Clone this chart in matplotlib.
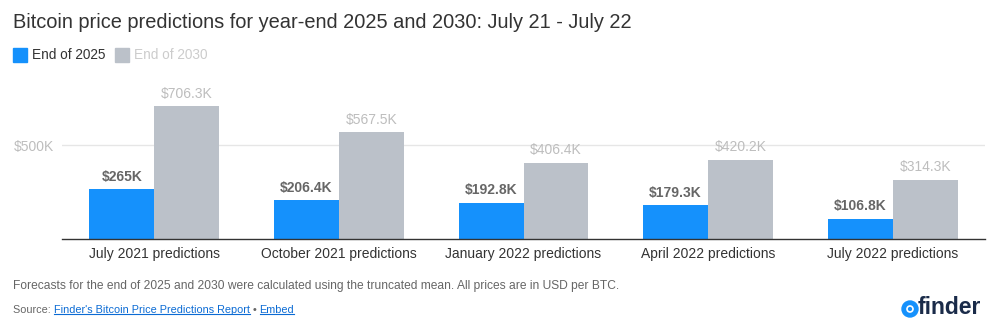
import numpy as np
import matplotlib
matplotlib.use("Agg")
from matplotlib import pyplot as plt
from matplotlib.patches import Circle, Rectangle
from matplotlib.transforms import IdentityTransform

plt.rcParams['font.family'] = ['Liberation Sans', 'DejaVu Sans']

categories = ["July 2021 predictions", "October 2021 predictions", "January 2022 predictions",
              "April 2022 predictions", "July 2022 predictions"]
end_2025 = [265.0, 206.4, 192.8, 179.3, 106.8]
end_2030 = [706.3, 567.5, 406.4, 420.2, 314.3]
series_names = ["End of 2025", "End of 2030"]

BLUE = "#1591FC"
GREY = "#BBC1C9"

fig = plt.figure(figsize=(10.05, 3.3), dpi=100)
ax = fig.add_axes([62/1005, 91/330, 923/1005, 159/330])

x = np.arange(len(categories))
w = 0.352
b1 = ax.bar(x - w/2, end_2025, w, color=BLUE, zorder=2)
b2 = ax.bar(x + w/2, end_2030, w, color=GREY, zorder=2)

for r, v in zip(b1, end_2025):
    ax.text(r.get_x() + r.get_width()/2, v + 30, "$%gK" % v, ha="center", va="bottom",
            fontsize=10, fontweight="bold", color="#666666")
for r, v in zip(b2, end_2030):
    ax.text(r.get_x() + r.get_width()/2, v + 30, "$%gK" % v, ha="center", va="bottom",
            fontsize=10, color="#BDBDBD")

ax.set_xlim(-0.5, len(categories) - 0.5)
ax.set_ylim(0, 846)
ax.set_yticks([500])
ax.set_yticklabels(["$500K"], color="#BDBDBD", fontsize=10)
ax.grid(axis="y", color="#E6E6E6", linewidth=1, zorder=0)
ax.set_xticks(x)
ax.set_xticklabels(categories, fontsize=10, color="#333333")
ax.tick_params(axis="x", length=0, pad=6)
ax.tick_params(axis="y", length=0, pad=6)
for s in ["top", "right", "left"]:
    ax.spines[s].set_visible(False)
ax.spines["bottom"].set_color("#333333")
ax.spines["bottom"].set_linewidth(1)
ax.spines["bottom"].set_zorder(3)

# title and legend
fig.text(13/1005, 1 - 22/330, "Bitcoin price predictions for year-end 2025 and 2030: July 21 - July 22",
         fontsize=14.4, color="#333333", va="center", ha="left")
fig.patches.append(Rectangle((13, 330 - 62), 14, 14, color=BLUE, transform=IdentityTransform()))
fig.text(32/1005, 1 - 55/330, series_names[0], fontsize=9.8, color="#333333", va="center")
fig.patches.append(Rectangle((115, 330 - 62), 14, 14, color=GREY, transform=IdentityTransform()))
fig.text(134/1005, 1 - 55/330, series_names[1], fontsize=9.8, color="#CCCCCC", va="center")

# footer
fig.text(13/1005, 1 - 286/330,
         "Forecasts for the end of 2025 and 2030 were calculated using the truncated mean. All prices are in USD per BTC.",
         fontsize=8.65, color="#666666", va="center")
t0 = fig.text(13/1005, 1 - 310/330, "Source: ", fontsize=7.85, color="#666666", va="center")
fig.canvas.draw()
r = fig.canvas.get_renderer()
xpos = t0.get_window_extent(r).x1
links = [("Finder's Bitcoin Price Predictions Report", "#0B6BD4"), (" \u2022 ", "#666666"), ("Embed", "#0B6BD4")]
for txt, col in links:
    t = fig.text(xpos/1005, 1 - 310/330, txt, fontsize=7.85, color=col, va="center")
    bb = t.get_window_extent(r)
    if col != "#666666":
        fig.lines.append(plt.Line2D([bb.x0, bb.x1], [bb.y0 + 1, bb.y0 + 1], color=col,
                                    linewidth=0.8, transform=IdentityTransform()))
    xpos = bb.x1

# logo
fig.patches.append(Circle((910, 330 - 309), 8, color="#1591FC", transform=IdentityTransform()))
fig.patches.append(Circle((910, 330 - 309), 3, fill=False, ec="white", lw=1.2, transform=IdentityTransform()))
fig.text(918/1005, 1 - 308/330, "finder", fontsize=16.5, fontweight="bold", color="#1A2B49", va="center")

fig.savefig("out.png", dpi=100)
